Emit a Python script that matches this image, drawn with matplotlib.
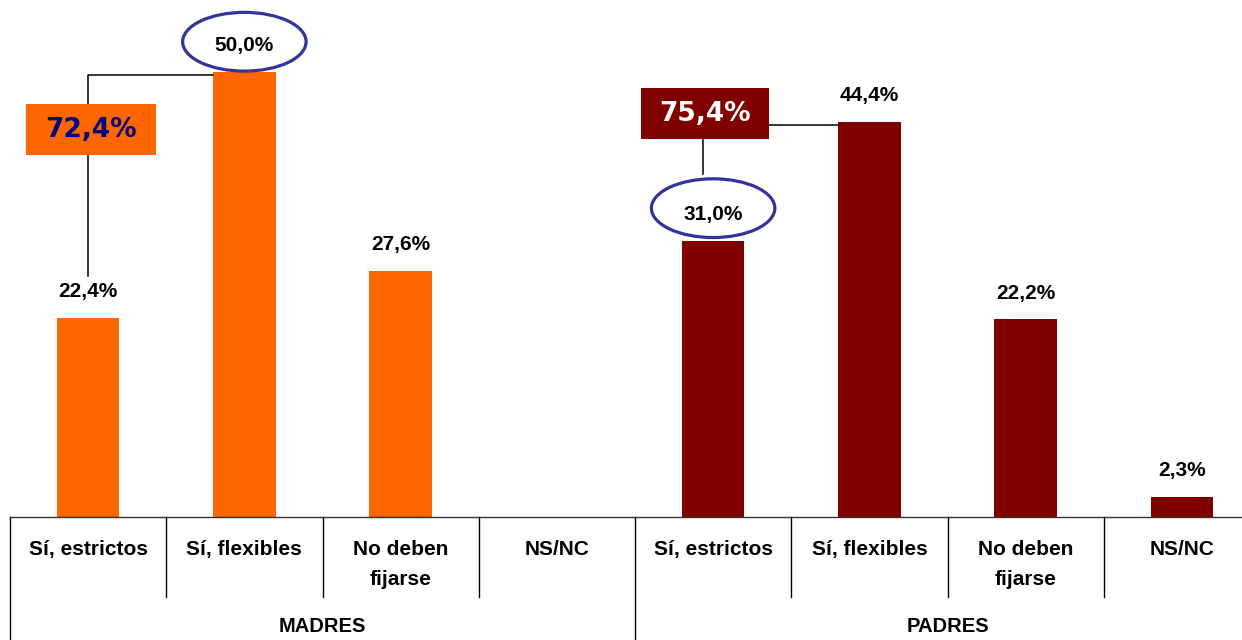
import numpy as np
import matplotlib.pyplot as plt
import matplotlib.transforms as mtransforms
from matplotlib.patches import Ellipse, Rectangle

# data
categories = ["Sí, estrictos", "Sí, flexibles", "No deben\nfijarse", "NS/NC"]
groups = ["MADRES", "PADRES"]
madres = [22.4, 50.0, 27.6, None]
padres = [31.0, 44.4, 22.2, 2.3]
totals = ["72,4%", "75,4%"]   # estrictos + flexibles
group_colors = ["#FF6600", "#800000"]

plt.rcParams['font.family'] = ['Liberation Sans', 'DejaVu Sans']

fig = plt.figure(figsize=(12.42, 6.4), dpi=100)
W, H = 1242, 640
# axes runs a bit past the right edge like the original
ax = fig.add_axes([10 / W, (H - 517) / H, 1250 / W, 517 / H])
ax.set_xlim(-0.5, 7.5)
ax.set_ylim(0, 517 / 8.9)

values = madres + padres
colors = [group_colors[0]] * 4 + [group_colors[1]] * 4
x = np.arange(len(values))
for xi, v, c in zip(x, values, colors):
    if v is None:
        continue
    ax.bar(xi, v, width=0.4, color=c, zorder=2)
    ax.annotate(f"{v:.1f}".replace(".", ",") + "%", (xi, v), xytext=(0, 19),
                textcoords="offset points", ha="center", va="center",
                fontsize=15, fontweight="bold", color="black", zorder=5)

for s in ["top", "right", "left"]:
    ax.spines[s].set_visible(False)
ax.spines["bottom"].set_color("#333333")
ax.spines["bottom"].set_linewidth(1.0)
ax.set_xticks([])
ax.set_yticks([])

# category labels and separators below the axis
blend = mtransforms.blended_transform_factory(ax.transData, fig.transFigure)
def fy(py):
    return 1 - py / H

for i in range(8):
    ax.text(i, fy(540), categories[i % 4], transform=blend, ha="center", va="top",
            fontsize=15, fontweight="bold", linespacing=1.75)
for b in np.arange(-0.5, 7.5, 1.0):
    bottom = 640 if b in (-0.5, 3.5) else 597
    ax.plot([b, b], [fy(517), fy(bottom)], transform=blend, color="black",
            lw=1.0, clip_on=False)
for gi, g in enumerate(groups):
    ax.text(1.5 + gi * 4, fy(627), g, transform=blend, ha="center", va="center",
            fontsize=14.5, fontweight="bold")

# circled values
for cx, cy in [(1.0, madres[1] + 3.4), (4.0, padres[0] + 3.7)]:
    ax.add_patch(Ellipse((cx, cy), 0.79, 6.6, fill=False, edgecolor="#333399",
                         lw=2.3, zorder=4, clip_on=False))

# connectors and total boxes
ax.plot([0, 0, 0.8], [27.1, 49.7, 49.7], color="black", lw=1.1, zorder=3)
ax.plot([3.935, 3.935], [38.5, 42.5], color="black", lw=1.1, zorder=3)
ax.plot([4.36, 4.8], [44.0, 44.0], color="black", lw=1.1, zorder=3)

boxes = [(0.018, 43.5, 0.832), (3.948, 45.3, 0.82)]
text_colors = ["#000080", "white"]
for (bx, by, bw), lbl, fc, tc in zip(boxes, totals, group_colors, text_colors):
    ax.add_patch(Rectangle((bx - bw / 2, by - 2.87), bw, 5.73, facecolor=fc,
                           edgecolor="none", zorder=4))
    ax.text(bx, by, lbl, ha="center", va="center", fontsize=19,
            fontweight="bold", color=tc, family="DejaVu Sans", zorder=5)

fig.savefig("out.png", dpi=100)
